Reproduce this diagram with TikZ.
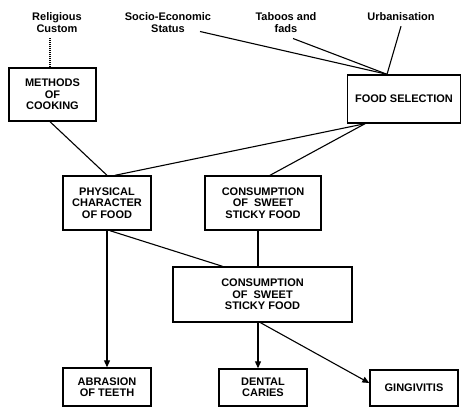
\documentclass[tikz,border=0pt]{standalone}
\usepackage{fontspec}
\setmainfont{Liberation Sans}
\usetikzlibrary{arrows.meta,calc,positioning}

\begin{document}
\begin{tikzpicture}[x=1pt, y=-1pt, >={Triangle[length=7pt,width=6pt]},
  every node/.style={font=\fontsize{11}{11.5}\selectfont\bfseries, align=center, inner sep=0pt},
  box/.style={draw, line width=1.4pt},
  link/.style={line width=1.1pt}]
\useasboundingbox (0,0) rectangle (462,407);
% top labels
\node (relig) at (57,22.5) {Religious\\Custom};
\node (socio) at (168,22.5) {Socio-Economic\\Status};
\node (taboo) at (286,22.5) {Taboos and\\fads};
\node (urban) at (401,17) {Urbanisation};
% boxes
\node[box,minimum width=87pt,minimum height=53pt] (meth) at (52.5,94.5) {METHODS\\OF\\COOKING};
\node[box,minimum width=113pt,minimum height=48pt] (fsel) at (404,99) {FOOD SELECTION};
\node[box,minimum width=88pt,minimum height=54pt] (phys) at (107,203) {PHYSICAL\\CHARACTER\\OF FOOD};
\node[box,minimum width=116pt,minimum height=54pt] (cons1) at (263,203) {CONSUMPTION\\OF~ SWEET\\STICKY FOOD};
\node[box,minimum width=179pt,minimum height=55pt] (cons2) at (262.5,294.5) {CONSUMPTION\\OF~ SWEET\\STICKY FOOD};
\node[box,minimum width=88pt,minimum height=38pt] (abr) at (107,387) {ABRASION\\OF TEETH};
\node[box,minimum width=88pt,minimum height=37pt] (dent) at (263,387.5) {DENTAL\\CARIES};
\node[box,minimum width=88pt,minimum height=36pt] (ging) at (414,388) {GINGIVITIS};
% connectors
\draw[link,dash pattern=on 1pt off 1pt] ([xshift=-2.5pt]meth.north) -- ([xshift=-2.5pt,yshift=-5pt]meth.north |- relig.south);
\draw[link] ([xshift=32pt,yshift=1pt]socio.south) -- ([xshift=-17pt]fsel.north);
\draw[link] ([xshift=7pt,yshift=-6pt]taboo.south) -- ([xshift=-17pt]fsel.north);
\draw[link] ([yshift=-5pt]urban.south) -- ([xshift=-17pt]fsel.north);
\draw[link] ([xshift=-2.5pt]meth.south) -- (phys.north);
\draw[link] ([xshift=-39pt]fsel.south) -- ([xshift=8pt]phys.north);
\draw[link] ([xshift=-39pt]fsel.south) -- ([xshift=7pt]cons1.north);
\draw[link,->] (phys.south) -- (abr.north);
\draw[link] ([xshift=3pt]phys.south) -- ([xshift=-40pt]cons2.north);
\draw[link] ([xshift=-5pt]cons1.south) -- ([xshift=-4.5pt]cons2.north);
\draw[link,->] ([xshift=-4.5pt]cons2.south) -- ([xshift=-5pt]dent.north);
\draw[link,->] ([xshift=-2pt]cons2.south) -- ([yshift=5pt]ging.west);
\end{tikzpicture}
\end{document}
